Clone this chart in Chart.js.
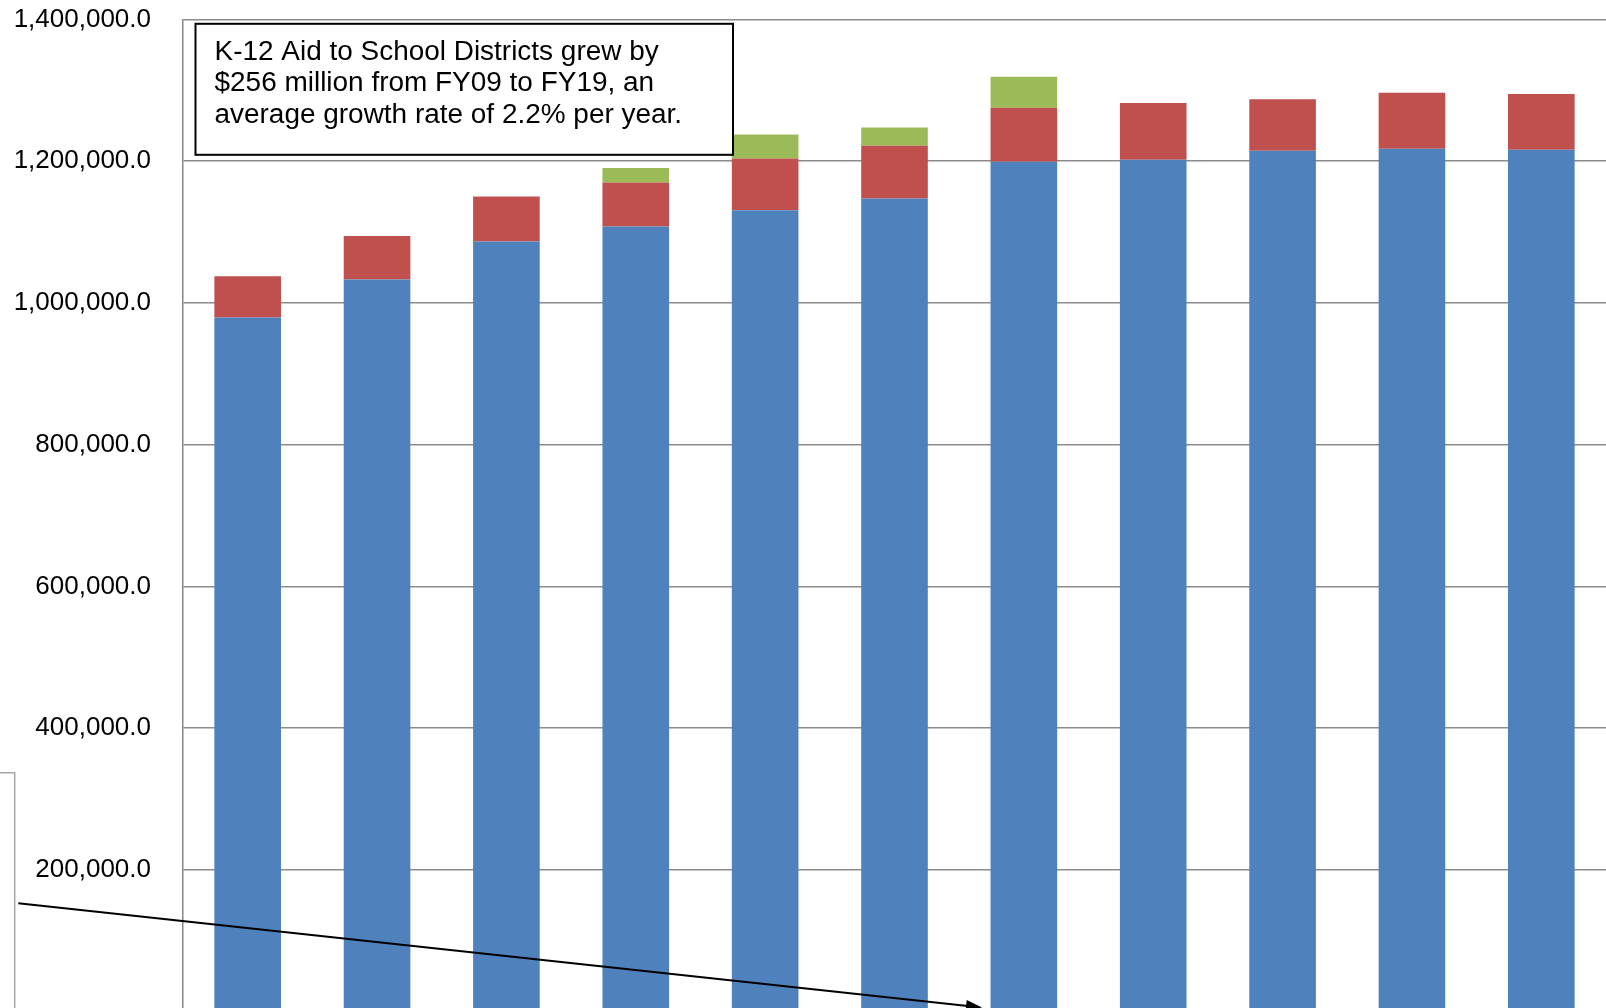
<!DOCTYPE html>
<html>
<head>
<meta charset="utf-8">
<script src="https://cdn.jsdelivr.net/npm/chart.js@4/dist/chart.umd.min.js"></script>
<style>
  html, body { margin: 0; padding: 0; background: #fff; overflow: hidden; width: 1606px; height: 1008px; }
  #wrap { position: absolute; left: 0; top: -27px; width: 1606px; height: 1085px; }
  canvas { display: block; }
</style>
</head>
<body>
<div id="wrap"><canvas id="c" width="1606" height="1085"></canvas></div>
<script>
// Categories (fiscal years)
const categories = ["FY09", "FY10", "FY11", "FY12", "FY13", "FY14", "FY15", "FY16", "FY17", "FY18", "FY19"];
// Series values (thousands of dollars)
const formulaAid = [979300, 1032900, 1086500, 1107700, 1130800, 1147200, 1199000, 1201800, 1214500, 1217400, 1215900];
const categoricalAid = [58400, 61300, 63500, 62100, 72900, 74400, 76200, 80100, 73000, 79000, 78700];
const otherAid = [0, 0, 0, 20700, 33800, 25800, 43800, 0, 0, 0, 0];
// Y tick settings
const yMin = 0, yMax = 1400000, yStep = 200000;

const noteLines = [
  "K-12 Aid to School Districts grew by",
  "$256 million from FY09 to FY19, an",
  "average growth rate of 2.2% per year."
];

// page offset of the canvas (wrap is shifted up)
const OFF = 27;

const annotations = {
  id: 'annotations',
  afterDraw(chart) {
    const ctx = chart.ctx;
    ctx.save();
    ctx.translate(0, OFF);
    // text box
    ctx.fillStyle = '#ffffff';
    ctx.fillRect(195.5, 23.8, 537.5, 131);
    ctx.strokeStyle = '#000000';
    ctx.lineWidth = 2;
    ctx.strokeRect(195.5, 23.8, 537.5, 131);
    ctx.fillStyle = '#000000';
    ctx.font = '27px "Liberation Sans", Arial, sans-serif';
    ctx.textBaseline = 'alphabetic';
    ctx.textAlign = 'left';
    noteLines.forEach((t, i) => {
      ctx.save();
      ctx.translate(214.5, 59.5 + i * 31.7);
      ctx.scale(1.035, 1);
      ctx.fillText(t, 0, 0);
      ctx.restore();
    });
    // small partial box on the left
    ctx.strokeStyle = '#a6a6a6';
    ctx.lineWidth = 1.5;
    ctx.beginPath();
    ctx.moveTo(0, 772.7);
    ctx.lineTo(14.7, 772.7);
    ctx.lineTo(14.7, 1040);
    ctx.stroke();
    // arrow
    const x1 = 18.3, y1 = 903.3, x2 = 982, y2 = 1007.6;
    const ang = Math.atan2(y2 - y1, x2 - x1);
    ctx.strokeStyle = '#000000';
    ctx.lineWidth = 2;
    ctx.beginPath();
    ctx.moveTo(x1, y1);
    ctx.lineTo(x2 - 12 * Math.cos(ang), y2 - 12 * Math.sin(ang));
    ctx.stroke();
    ctx.fillStyle = '#000000';
    ctx.beginPath();
    ctx.moveTo(x2, y2);
    ctx.lineTo(x2 - 16 * Math.cos(ang) + 6 * Math.sin(ang), y2 - 16 * Math.sin(ang) - 6 * Math.cos(ang));
    ctx.lineTo(x2 - 16 * Math.cos(ang) - 6 * Math.sin(ang), y2 - 16 * Math.sin(ang) + 6 * Math.cos(ang));
    ctx.closePath();
    ctx.fill();
    ctx.restore();
  }
};

new Chart(document.getElementById('c'), {
  type: 'bar',
  data: {
    labels: categories,
    datasets: [
      { label: 'Formula Aid', data: formulaAid, backgroundColor: '#4F81BD' },
      { label: 'Categorical Aid', data: categoricalAid, backgroundColor: '#C0504D' },
      { label: 'Other Aid', data: otherAid, backgroundColor: '#9BBB59' }
    ]
  },
  options: {
    responsive: false,
    animation: false,
    devicePixelRatio: 1,
    layout: { padding: { left: 0, top: 19, right: 0, bottom: 29 } },
    plugins: { legend: { display: false }, tooltip: { enabled: false } },
    datasets: { bar: { categoryPercentage: 1, barPercentage: 0.515 } },
    scales: {
      x: {
        stacked: true,
        display: false
      },
      y: {
        stacked: true,
        min: yMin,
        max: yMax,
        afterFit(scale) { scale.width = 183; },
        ticks: {
          stepSize: yStep,
          padding: 32,
          color: '#000000',
          font: { family: '"Liberation Sans", Arial, sans-serif', size: 26, lineHeight: 1.1077 },
          callback: (v) => v === 0 ? '' : v.toLocaleString('en-US', { minimumFractionDigits: 1, maximumFractionDigits: 1 })
        },
        grid: { color: '#8c8c8c', lineWidth: 1.5, drawTicks: false },
        border: { color: '#868686', width: 1.5 }
      }
    }
  },
  plugins: [annotations]
});
</script>
</body>
</html>
